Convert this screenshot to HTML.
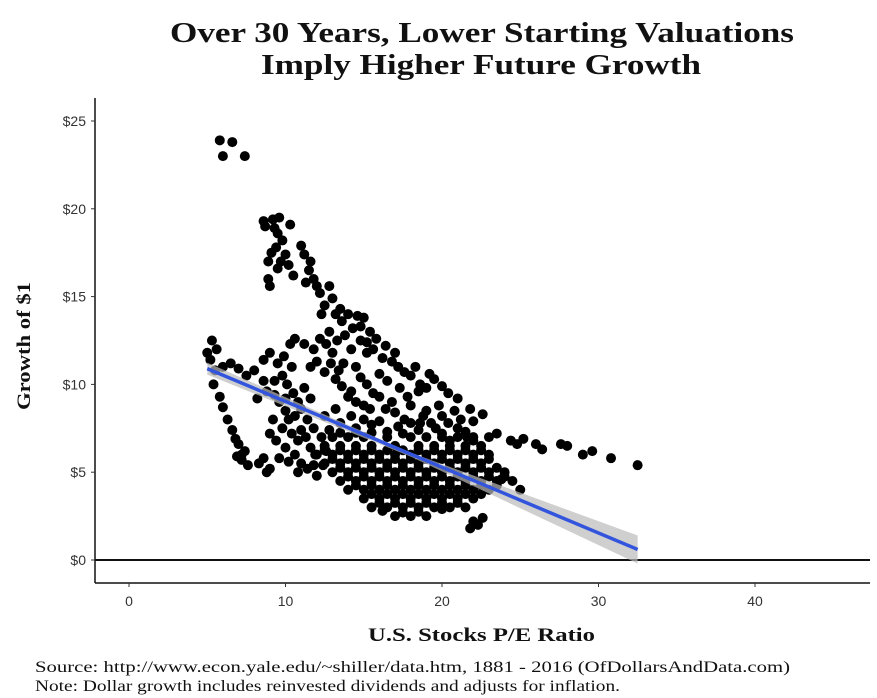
<!DOCTYPE html>
<html><head><meta charset="utf-8"><style>
body{margin:0;background:#fff;width:877px;height:698px;overflow:hidden}
svg{display:block}
.serif{font-family:"Liberation Serif",serif}
.sans{font-family:"Liberation Sans",sans-serif}
</style></head><body>
<svg id="chart" width="877" height="698">
<text class="serif" x="170" y="42" textLength="624" lengthAdjust="spacingAndGlyphs" font-size="29" font-weight="bold" fill="#111">Over 30 Years, Lower Starting Valuations</text>
<text class="serif" x="261" y="74" textLength="440" lengthAdjust="spacingAndGlyphs" font-size="29" font-weight="bold" fill="#111">Imply Higher Future Growth</text>
<text class="serif" transform="translate(30,410) rotate(-90)" textLength="128" lengthAdjust="spacingAndGlyphs" font-size="19" font-weight="bold" fill="#111">Growth of $1</text>
<text class="serif" x="368" y="641" textLength="227" lengthAdjust="spacingAndGlyphs" font-size="19" font-weight="bold" fill="#111">U.S. Stocks P/E Ratio</text>
<text class="serif" x="35" y="672" textLength="755" lengthAdjust="spacingAndGlyphs" font-size="16" fill="#111">Source:  http://www.econ.yale.edu/~shiller/data.htm, 1881 - 2016 (OfDollarsAndData.com)</text>
<text class="serif" x="35" y="691" textLength="585" lengthAdjust="spacingAndGlyphs" font-size="16" fill="#111">Note:  Dollar growth includes reinvested dividends and adjusts for inflation.</text>
<g id="plot"></g>
</svg>
<script>
const xTicks=[0,10,20,30,40];
const yTicks=[0,5,10,15,20,25];
const yTickLabels=["$0","$5","$10","$15","$20","$25"];
const outliers=[[5.8,23.9],[6.6,23.8],[6.0,23.0],[7.4,23.0]];
const upperArm=[[8.6,19.3],[8.7,19.0],[9.2,19.4],[9.6,19.5],[10.3,19.1],[9.5,18.6],[9.8,18.2],[9.4,17.8],[9.1,17.5],[8.9,17.0],[9.5,16.6],[8.9,16.0],[9.0,15.6],[10.2,16.8],[11.0,17.9],[11.2,17.4],[11.5,16.5],[11.8,16.0],[11.3,15.8],[12.2,15.2],[12.5,14.5],[12.3,14.0],[13.0,14.9],[13.5,14.3],[14.0,14.0],[14.6,13.9],[15.0,13.8],[14.3,13.2],[15.4,13.0],[15.8,12.6],[15.6,12.0],[16.2,11.5],[16.8,11.3],[17.2,11.0],[18.0,10.5],[18.6,10.0],[19.5,10.3],[20.4,9.5],[19.8,8.8],[20.8,8.5],[21.2,8.0],[22.0,7.9],[22.6,8.3],[21.5,7.3],[10.5,16.2],[10.0,17.4],[12.8,15.6],[13.6,13.6],[16.4,12.2],[17.6,10.7],[19.0,9.8],[9.3,18.9],[9.7,17.0],[11.6,17.0],[12.0,15.6],[13.2,14.0],[14.8,13.3],[15.2,12.4],[17.0,11.8],[18.3,11.0],[19.2,10.6],[20.0,9.9],[21.0,9.2],[21.8,8.6]];
const rightTail=[[23.0,7.0],[23.5,7.2],[24.4,6.8],[24.8,6.6],[25.2,6.9],[26.0,6.6],[26.4,6.3],[27.6,6.6],[28.0,6.5],[29.0,6.0],[29.6,6.2],[30.8,5.8],[32.5,5.4]];
const innerLoop=[[10.3,12.3],[10.6,12.6],[11.2,12.3],[11.8,12.0],[12.0,11.3],[11.6,11.0],[12.5,10.7],[13.2,10.3],[13.6,9.9],[14.2,9.6],[14.0,9.3],[14.5,9.0],[15.0,8.8],[15.4,8.6],[16.0,9.3],[16.8,9.0],[17.0,8.4],[17.6,8.0],[18.0,7.8],[18.5,7.4],[19.3,7.8],[20.0,7.2],[18.5,9.6],[17.8,9.3],[12.8,13.0],[13.3,12.5],[13.8,12.8],[14.2,12.0],[13.0,11.8],[12.6,12.3],[14.8,12.5],[15.2,11.8],[14.5,11.0],[13.7,11.2],[16.0,10.6],[16.5,10.2],[15.2,10.0],[17.3,9.8],[12.2,12.6],[12.9,11.2],[13.4,10.8],[14.8,10.4],[15.6,9.5],[16.4,8.6],[18.8,8.2],[19.6,7.5]];
const leftArm=[[5.0,11.8],[5.3,12.5],[5.6,12.0],[5.2,11.4],[5.5,10.8],[6.0,11.0],[6.5,11.2],[7.0,10.9],[5.4,10.0],[5.8,9.3],[6.0,8.7],[6.3,8.0],[6.6,7.4],[6.8,6.9],[7.0,6.6],[7.4,6.2],[7.2,5.7],[7.6,5.4],[8.3,5.5],[8.6,5.8],[9.0,5.2],[8.8,5.0],[7.5,10.5],[8.0,10.8],[8.6,11.4],[9.0,11.8],[9.5,11.2],[9.3,10.2],[9.8,10.5],[10.1,10.0],[10.5,9.5],[10.8,9.0],[11.0,8.6],[11.4,8.0],[11.8,7.5],[12.3,7.0],[8.2,9.2],[8.8,9.6],[9.6,9.0],[10.0,8.5],[9.2,8.0],[9.8,7.5],[10.4,7.2],[10.8,6.8],[10.0,6.4],[10.6,6.0],[11.0,5.5],[10.8,5.0],[11.4,5.2],[12.0,4.8],[12.4,5.4],[9.4,6.8],[9.0,7.2],[8.6,10.2],[10.4,11.0],[11.2,9.8],[11.6,9.2],[10.2,8.0],[11.0,7.4],[11.6,6.4],[9.6,5.8],[7.2,6.0],[6.9,5.9],[9.9,11.6],[10.0,9.2],[10.6,8.2],[11.3,7.0],[11.9,6.0],[11.8,5.4],[12.6,6.2],[9.3,9.4],[10.2,5.6]];
const denseBlob=[[13,7],[14,7],[15,7],[16.5,7],[18,7],[19,7],[20,7],[21,7],[22,7],
[12.5,6.5],[13.5,6.5],[14.5,6.5],[15.5,6.5],[17,6.5],[18.5,6.5],[19.5,6.5],[20.5,6.5],[21.5,6.5],[22.5,6.5],
[12,6],[13,6],[14,6],[15,6],[16,6],[17,6],[18,6],[19,6],[20,6],[21,6],[22,6],[23,6],
[12.5,5.5],[13.5,5.5],[14.5,5.5],[15.5,5.5],[16.5,5.5],[17.5,5.5],[18.5,5.5],[19.5,5.5],[20.5,5.5],[21.5,5.5],[22.5,5.5],
[13,5],[14,5],[15,5],[16,5],[17,5],[18,5],[19,5],[20,5],[21,5],[22,5],[23,5],[24,5],
[13.5,4.5],[14.5,4.5],[15.5,4.5],[16.5,4.5],[17.5,4.5],[18.5,4.5],[19.5,4.5],[20.5,4.5],[21.5,4.5],[22.5,4.5],[23.5,4.5],[24.5,4.5],
[14,4],[15,4],[16,4],[17,4],[18,4],[19,4],[20,4],[21,4],[22,4],[23,4],
[15,3.5],[16,3.5],[17,3.5],[18,3.5],[19,3.5],[20,3.5],[21,3.5],[22,3.5],
[15.5,3],[16.5,3],[17.5,3],[18.5,3],[19.5,3],[20.5,3],[21.5,3],
[17,2.5],[18,2.5],[19,2.5],[22,2.2],[22.6,2.4],[21.8,1.8],[22.3,2.0],[23.8,4.6],[25.0,4.0],
[12.5,8.2],[13.5,7.8],[14.5,7.5],[15.5,7.7],[16.5,7.3],[19,8.5],[20,8.2],[21,7.5],[22,6.8],[20.5,6.8],[18,8.8]];
const denseFill=[[13.5,7.25],[14.5,7.25],[15.5,7.25],[17.5,7.2],[12.5,6.25],[13.5,6.25],[14.5,6.25],[15.5,6.25],[16.5,6.25],[17.5,6.25],[18.5,6.25],[19.5,6.25],[20.5,6.25],[21.5,6.25],[22.5,6.25],
[13,5.75],[14,5.75],[15,5.75],[16,5.75],[17,5.75],[18,5.75],[19,5.75],[20,5.75],[21,5.75],[22,5.75],[23,5.75],
[13.5,5.25],[14.5,5.25],[15.5,5.25],[16.5,5.25],[17.5,5.25],[18.5,5.25],[19.5,5.25],[20.5,5.25],[21.5,5.25],[22.5,5.25],[23.5,5.25],
[14,4.75],[15,4.75],[16,4.75],[17,4.75],[18,4.75],[19,4.75],[20,4.75],[21,4.75],[22,4.75],[23,4.75],[24,4.75],
[14.5,4.25],[15.5,4.25],[16.5,4.25],[17.5,4.25],[18.5,4.25],[19.5,4.25],[20.5,4.25],[21.5,4.25],[22.5,4.25],[23.5,4.25],
[15.5,3.75],[16.5,3.75],[17.5,3.75],[18.5,3.75],[19.5,3.75],[20.5,3.75],[21.5,3.75],[22.5,3.75],
[16,3.25],[17,3.25],[18,3.25],[19,3.25],[20,3.25],[21,3.25],[16.2,2.8],[17.5,2.7],[18.5,2.75],[20,2.9],
[14.2,8.2],[15.0,8.0],[16.0,7.9],[17.2,7.6],[18.6,7.8],[20.4,7.8],[21.6,7.0],[12.8,7.4],[13.2,8.6]];
const fitStart=[5,10.9], fitEnd=[32.5,0.6];

const ns="http://www.w3.org/2000/svg";
const plot=document.getElementById('plot');
const X=v=>129+v*15.65;
const Y=v=>560-v*17.56;
function el(t,a){const e=document.createElementNS(ns,t);for(const k in a)e.setAttribute(k,a[k]);plot.appendChild(e);return e;}
let ya=el('line',{x1:95,y1:98,x2:95,y2:583,stroke:'#111','stroke-width':1.5});


let xa=el('line',{x1:95,y1:583,x2:870,y2:583,stroke:'#111','stroke-width':1.5});


let zl=el('line',{x1:95,y1:Y(0),x2:870,y2:Y(0),stroke:'#111','stroke-width':2});


yTicks.forEach((v,i)=>{
 el('line',{x1:91,y1:Y(v),x2:95,y2:Y(v),stroke:'#333'});
 const t=el('text',{x:86,y:Y(v)+5,'text-anchor':'end','font-size':14,fill:'#333','class':'sans'});
 t.textContent=yTickLabels[i];
 
 
});
xTicks.forEach(v=>{
 el('line',{x1:X(v),y1:583,x2:X(v),y2:587,stroke:'#333'});
 const t=el('text',{x:X(v),y:606,'text-anchor':'middle','font-size':14,fill:'#333','class':'sans'});
 t.textContent=v;
 
 
});
[outliers,upperArm,rightTail,innerLoop,leftArm,denseBlob,denseFill].forEach(arr=>arr.forEach(p=>{
 const c=el('circle',{cx:X(p[0]),cy:Y(p[1]),r:5,fill:'#000'});
 
 
}));
const x0=X(fitStart[0]),y0=Y(fitStart[1]),x1=X(fitEnd[0]),y1=Y(fitEnd[1]);
const band=el('polygon',{points:`${x0},${y0-6} ${X(18)},${Y(6.0)-2} ${x1},${y1-14} ${x1},${y1+14} ${X(18)},${Y(6.0)+2} ${x0},${y0+6}`,fill:'#bbb','fill-opacity':0.7});


const fit=el('line',{x1:x0,y1:y0,x2:x1,y2:y1,stroke:'#3355dd','stroke-width':3.5});


</script>
</body></html>
